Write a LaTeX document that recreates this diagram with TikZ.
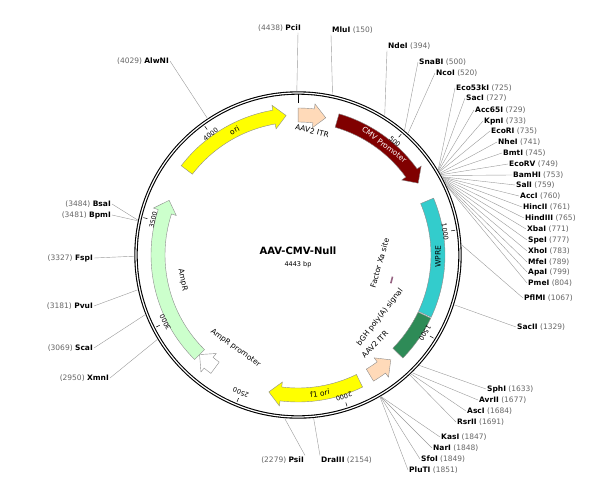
\documentclass[tikz,border=0pt]{standalone}
\usepackage{fontspec}
\setmainfont{DejaVu Sans}
\usetikzlibrary{calc,positioning}
\definecolor{peach}{RGB}{255,218,185}
\definecolor{cmvred}{RGB}{128,0,0}
\definecolor{wpre}{RGB}{51,204,204}
\definecolor{bgh}{RGB}{46,139,87}
\definecolor{orange1}{RGB}{255,255,0}
\definecolor{ampr}{RGB}{204,255,204}
\definecolor{xasite}{RGB}{150,100,130}
\newcommand{\bpang}[1]{90-(#1)/4443*360}
% feature box on the map: start, end, fill
\newcommand{\featbox}[3]{%
  \pgfmathsetmacro\fa{\bpang{#1}}\pgfmathsetmacro\fb{\bpang{#2}}
  \filldraw[feat,fill=#3] ($(ctr)+(\fa:133)$) arc[start angle=\fa,end angle=\fb,radius=133]
    -- ($(ctr)+(\fb:147)$) arc[start angle=\fb,end angle=\fa,radius=147] -- cycle;}
% feature arrow: tail, tip, fill
\newcommand{\featarrow}[3]{%
  \pgfmathsetmacro\fa{\bpang{#1}}\pgfmathsetmacro\fb{\bpang{#2}}
  \pgfmathsetmacro\fh{\fb+5*sign(\fa-\fb)}
  \filldraw[feat,fill=#3] ($(ctr)+(\fa:133)$) arc[start angle=\fa,end angle=\fh,radius=133]
    -- ($(ctr)+(\fh:128)$) -- ($(ctr)+(\fb:140)$) -- ($(ctr)+(\fh:152)$) -- ($(ctr)+(\fh:147)$)
    arc[start angle=\fh,end angle=\fa,radius=147] -- cycle;}

\begin{document}
\begin{tikzpicture}[x=1pt,y=1pt,font=\fontsize{7.5}{9}\selectfont]
    \tikzset{feat/.style={draw=black!45,line width=0.4pt},
             lbl/.style={inner sep=1pt},
             conn/.style={draw=black!40,line width=0.4pt},
             flabel/.style={font=\fontsize{7.5}{9}\selectfont}}
    \newcommand{\bpn}[1]{{\color{black!60}(#1)}}
    \useasboundingbox (0,0) rectangle (600,-496);
    \coordinate (ctr) at (298,-255);
    \coordinate (topx) at (298,0);

    % backbone
    \draw[line width=3.4pt] (ctr) circle[radius=162];
    \draw[white,line width=1.2pt] (ctr) circle[radius=162];
    \draw[line width=0.8pt] ($(ctr)+(90:152)$) -- ($(ctr)+(90:161)$);

    % features
    \featarrow{1}{141}{peach}
    \featarrow{200}{730}{cmvred}
    \featbox{830}{1420}{wpre}
    \featbox{1425}{1660}{bgh}
    \featarrow{1840}{1709}{peach}
    \featarrow{1900}{2370}{orange1}
    \featarrow{2670}{2773}{white}
    \featarrow{2773}{3616}{ampr}
    \featarrow{3794}{4383}{orange1}
    \pgfmathsetmacro\fa{\bpang{1270}}\pgfmathsetmacro\fb{\bpang{1320}}
    \draw[line width=1.6pt,xasite] ($(ctr)+(\fa:97)$) arc[start angle=\fa,end angle=\fb,radius=97];

    % feature labels
    \node[flabel,rotate=28] (l-ori) at ($(ctr)+({\bpang{4110}}:140)$) {ori};
    \node[flabel,rotate=-37,white] (l-cmv) at ($(ctr)+({\bpang{470}}:140)$) {CMV Promoter};
    \node[flabel,rotate=89] (l-wpre) at ($(ctr)+({\bpang{1120}}:140)$) {WPRE};
    \node[flabel,rotate=-79] (l-ampr) at ($(ctr)+({\bpang{3180}}:118)$) {AmpR};
    \node[flabel,rotate=8] (l-f1) at ($(ctr)+({\bpang{2110}}:140)$) {f1 ori};
    \node[flabel,rotate=-14] (l-itr1) at ($(ctr)+({\bpang{80}}:125)$) {AAV2 ITR};
    \node[flabel,rotate=52] (l-bgh) at ($(ctr)+({\bpang{1570}}:103)$) {bGH poly(A) signal};
    \node[flabel,rotate=46] (l-itr2) at ($(ctr)+({\bpang{1720}}:118)$) {AAV2 ITR};
    \node[flabel,rotate=-36] (l-amprp) at ($(ctr)+({\bpang{2640}}:112)$) {AmpR promoter};
    \node[flabel,rotate=74] (l-xa) at ($(ctr)+({\bpang{1180}}:82)$) {Factor Xa site};

    % ticks
    \foreach \t in {500,1000,...,4000}{
        \pgfmathsetmacro\ta{\bpang{\t}}
        \draw[line width=0.5pt] ($(ctr)+(\ta:155)$) -- ($(ctr)+(\ta:159)$);
        \node[font=\fontsize{6.5}{8}\selectfont,rotate=\ta-90] (t-\t) at ($(ctr)+(\ta:149)$) {\t};
    }

    % title
    \node[font=\bfseries\fontsize{10}{12}\selectfont] (title) at (298,-251) {AAV-CMV-Null};
    \node[font=\fontsize{6.5}{8}\selectfont,below=0pt of title] (size) {4443 bp};

    % sites, right side
    \foreach \id/\p/\x/\y in {SnaBI/500/418/62, NcoI/520/435/73, Eco53kI/725/455/88,
        SacI/727/465/98, Acc65I/729/474/110, KpnI/733/483/121, EcoRI/735/490/131,
        NheI/741/497/142, BmtI/745/502/153, EcoRV/749/508/164, BamHI/753/512/175,
        SalI/759/515/185, AccI/760/519/196, HincII/761/522/207, HindIII/765/524/218,
        XbaI/771/526/229, SpeI/777/527/240, XhoI/783/527/251, MfeI/789/527/262,
        ApaI/799/527/272, PmeI/804/527/283, PflMI/1067/523/298, SacII/1329/516/327,
        SphI/1633/486/389, AvrII/1677/478/400, AscI/1684/466/411, RsrII/1691/456/422,
        KasI/1847/440/437, NarI/1848/432/448, SfoI/1849/420/459, PluTI/1851/408/470}{
        \node[lbl,anchor=west] (\id) at (\x,-\y) {\textbf{\id} \bpn{\p}};
        \draw[conn] ($(ctr)+({\bpang{\p}}:164)$) -- (\id.west);
    }
    % sites, left side
    \foreach \id/\p/\x/\y in {AlwNI/4029/170/61, BsaI/3484/112/204, BpmI/3481/112/215,
        FspI/3327/94/258, PvuI/3181/94/306, ScaI/3069/94/348, XmnI/2950/110/378}{
        \node[lbl,anchor=east] (\id) at (\x,-\y) {\bpn{\p} \textbf{\id}};
        \draw[conn] ($(ctr)+({\bpang{\p}}:164)$) -- (\id.east);
    }
    % sites, top and bottom
    \node[lbl,anchor=east] (PciI) at (302,-28) {\bpn{4438} \textbf{PciI}};
    \node[lbl,anchor=west] (MluI) at (331,-30) {\textbf{MluI} \bpn{150}};
    \node[lbl,anchor=west] (NdeI) at (387,-46) {\textbf{NdeI} \bpn{394}};
    \node[lbl,anchor=east] (PsiI) at (305,-460) {\bpn{2279} \textbf{PsiI}};
    \node[lbl,anchor=west] (DraIII) at (320,-460) {\textbf{DraIII} \bpn{2154}};
    \draw[conn] ($(ctr)+({\bpang{4438}}:164)$) -- (PciI.south -| topx);
    \draw[conn] ($(ctr)+({\bpang{150}}:164)$) -- (MluI.south west);
    \draw[conn] ($(ctr)+({\bpang{394}}:164)$) -- (NdeI.south west);
    \draw[conn] ($(ctr)+({\bpang{2279}}:164)$) -- (PsiI.north east);
    \draw[conn] ($(ctr)+({\bpang{2154}}:164)$) -- (DraIII.north west);
\end{tikzpicture}
\end{document}
